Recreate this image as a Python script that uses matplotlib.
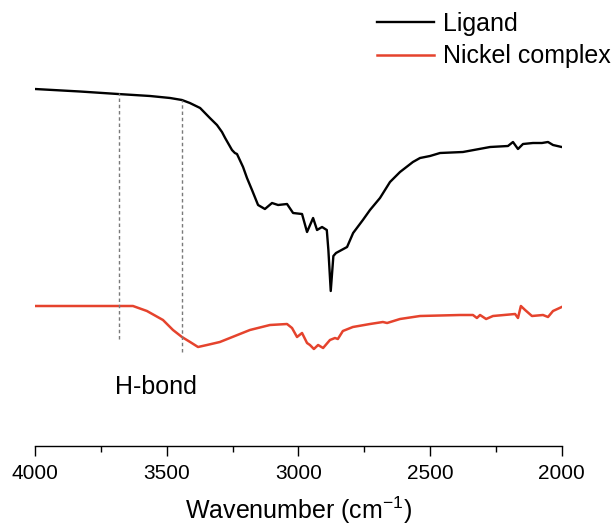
import matplotlib
matplotlib.use("Agg")
import matplotlib.pyplot as plt
from matplotlib.ticker import MultipleLocator

plt.rcParams['font.family'] = ['Liberation Sans', 'DejaVu Sans']
plt.rcParams['mathtext.default'] = 'regular'

# IR spectra (offset intensity, a.u.)
ligand_wn = [4000, 3829, 3685, 3563, 3487, 3442, 3412, 3373, 3336, 3309,
             3290, 3278, 3252, 3241, 3233, 3210, 3195, 3176, 3153, 3127,
             3100, 3077, 3043, 3020, 2986, 2967, 2944, 2929, 2910, 2892,
             2886, 2877, 2867, 2857, 2815, 2792, 2755, 2728, 2690, 2652,
             2614, 2565, 2538, 2500, 2462, 2375, 2272, 2204, 2185, 2166,
             2147, 2109, 2075, 2052, 2033, 2000]
ligand_y = [357, 354.5, 352, 350, 348, 346, 343, 338, 328, 321,
            314, 308, 296, 293, 292, 279, 268, 256, 241, 237,
            243, 241, 242, 233, 232, 214, 228, 216, 219, 216,
            196, 155, 190, 193, 199, 213, 226, 236, 248, 264,
            274, 284, 288, 290, 293, 294, 299, 300, 304, 297,
            302, 303, 303, 304, 301, 299]

nickel_wn = [4000, 3829, 3677, 3628, 3575, 3514, 3476, 3442, 3411, 3381,
             3347, 3298, 3260, 3184, 3108, 3043, 3024, 3005, 2986, 2967,
             2956, 2941, 2925, 2906, 2880, 2861, 2850, 2831, 2793, 2728,
             2679, 2663, 2614, 2538, 2386, 2337, 2322, 2310, 2287, 2261,
             2177, 2166, 2155, 2139, 2113, 2071, 2052, 2033, 2000]
nickel_y = [140, 140, 140, 140, 135, 126, 116, 109, 104, 99,
            101, 104, 108, 116, 121, 122, 118, 109, 113, 103,
            101, 97, 101, 98, 106, 108, 107, 115, 119, 122,
            124, 123, 127, 130, 131, 131, 128, 131, 127, 130,
            132, 128, 140, 136, 130, 131, 129, 135, 139]

# H-bond guide lines: wavenumber, bottom, top
hbond_wn = [3681, 3442]
hbond_lo = [107, 94]
hbond_hi = [353, 346]

fig = plt.figure(figsize=(6.16, 5.28), dpi=100)
ax = fig.add_axes([35 / 616, 82 / 528, 526.7 / 616, 446 / 528])

ax.plot(ligand_wn, ligand_y, color='black', lw=1.7, label='Ligand',
        solid_joinstyle='round')
ax.plot(nickel_wn, nickel_y, color='#e5432d', lw=1.8, label='Nickel complex',
        solid_joinstyle='round')
ax.vlines(hbond_wn, hbond_lo, hbond_hi, colors='#7a7a7a', lw=1.0,
          linestyles=(0, (2.5, 2)))
ax.text(3540, 59, 'H-bond', fontsize=18, ha='center', va='center')

ax.set_xlim(4000, 2000)
ax.set_ylim(0, 446)
ax.xaxis.set_major_locator(MultipleLocator(500))
ax.xaxis.set_minor_locator(MultipleLocator(250))
ax.tick_params(axis='x', which='major', length=7, width=1, labelsize=15, pad=6)
ax.tick_params(axis='x', which='minor', length=4, width=1)
ax.set_yticks([])
for s in ['left', 'right', 'top']:
    ax.spines[s].set_visible(False)
ax.spines['bottom'].set_linewidth(1)
ax.set_xlabel('Wavenumber (cm$^{-1}$)', fontsize=18, labelpad=8)

ax.legend(loc='upper right', bbox_to_anchor=(613 / 616, 1 - 9 / 528),
          bbox_transform=fig.transFigure, frameon=False, fontsize=18,
          handlelength=2.3, handletextpad=0.35, labelspacing=0.35,
          borderpad=0.1, borderaxespad=0)

fig.savefig('out.png', dpi=100)
